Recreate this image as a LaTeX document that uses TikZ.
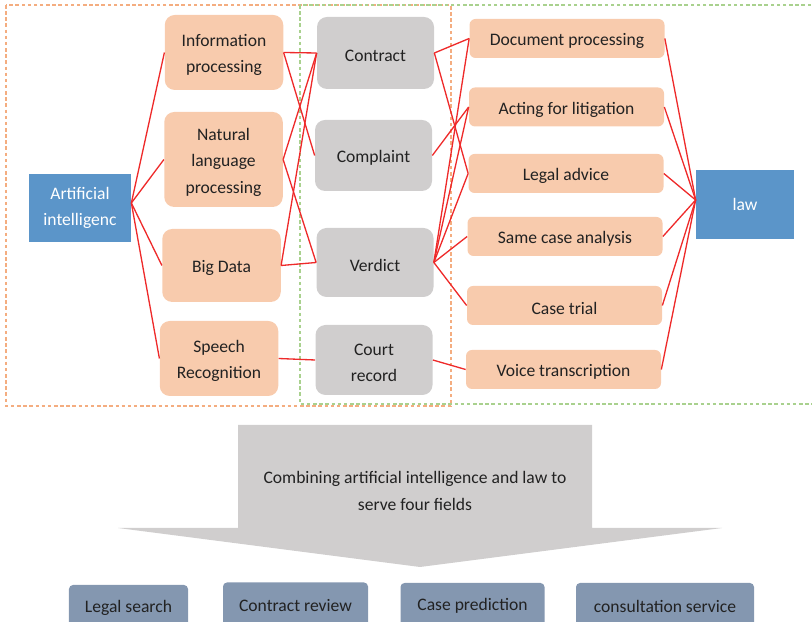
\documentclass[tikz,border=0pt]{standalone}
\usepackage{fontspec}
\setmainfont{Carlito}
\definecolor{peach}{HTML}{F8CBAD}
\definecolor{greybox}{HTML}{D0CECE}
\definecolor{steel}{HTML}{5B95C9}
\definecolor{slate}{HTML}{8497B0}
\definecolor{linkred}{HTML}{EE2A2A}
\definecolor{frameorange}{HTML}{F4AD80}
\definecolor{framegreen}{HTML}{A9D18E}
\definecolor{ink}{HTML}{222222}
% taller first line, pushes the text a little lower in its box
\newcommand{\capstrut}{\rule{0pt}{10pt}}
\tikzset{
  box/.style={align=center, inner sep=0pt, text=ink, font=\fontsize{10}{15}\selectfont},
  lowtext/.style={execute at begin node={\capstrut}},
  techbox/.style={box, lowtext, fill=peach, rounded corners=2mm, minimum width=23.7mm},
  docbox/.style={box, lowtext, fill=greybox, rounded corners=2mm, minimum width=23.4mm},
  usebox/.style={box, lowtext, fill=peach, rounded corners=1.2mm, minimum width=39mm, minimum height=7.8mm},
  mainbox/.style={box, fill=steel, text=white, minimum height=13.7mm},
  fieldbox/.style={box, fill=slate, rounded corners=0.8mm, minimum height=9.2mm},
  link/.style={draw=linkred, line width=0.75pt},
  frame/.style={dash pattern=on 2pt off 1.5pt, semithick}
}

\begin{document}
\begin{tikzpicture}[x=0.2mm, y=-0.2mm]
    \clip (0,0) rectangle (812,622);

    % dashed frames
    \draw[frame, frameorange] (6,5) rectangle (451,406);
    \draw[frame, framegreen] (300,5) rectangle (830,404);

    % left and right ends
    \node[mainbox, minimum width=20.4mm] (ai) at (80,208) {Artificial\\intelligenc};
    \node[mainbox, minimum width=19.6mm] (law) at (745,204.5) {law};
    \coordinate (aiout) at ([yshift=1mm]ai.east);
    \coordinate (lawin) at ([yshift=0.9mm]law.west);

    % techniques
    \node[techbox, minimum height=15mm] (info) at (224,52.5) {\capstrut Information\\processing};
    \node[techbox, minimum height=19mm] (nlp) at (223.5,159.5) {\capstrut Natural\\language\\processing};
    \node[techbox, minimum height=14.6mm] (bigdata) at (221.5,265.5) {Big Data};
    \node[techbox, minimum height=15mm] (speech) at (219,358.5) {\capstrut Speech\\Recognition};

    % documents
    \node[docbox, minimum height=14.4mm] (contract) at (375.5,53) {Contract};
    \node[docbox, minimum height=14.2mm] (complaint) at (373.5,155.5) {Complaint};
    \node[docbox, minimum height=13.8mm] (verdict) at (375,262.5) {Verdict};
    \node[docbox, minimum height=14mm] (courtrec) at (374,360) {\capstrut Court\\record};

    % applications
    \node[usebox] (docproc) at (567,38.5) {Document processing};
    \node[usebox] (acting) at (566.5,107) {Acting for litigation};
    \node[usebox] (advice) at (566,173.5) {Legal advice};
    \node[usebox] (samecase) at (565,236.5) {Same case analysis};
    \node[usebox] (trial) at (564.5,305.5) {Case trial};
    \node[usebox] (voice) at (563.5,369.5) {Voice transcription};

    \foreach \t in {info,nlp,bigdata,speech}
      \draw[link] (aiout) -- (\t.west);
    \foreach \t/\d in {info/contract,info/complaint,nlp/contract,nlp/verdict,
                       bigdata/contract,bigdata/verdict,speech/courtrec}
      \draw[link] (\t.east) -- (\d.west);
    \foreach \d/\u in {contract/docproc,contract/advice,complaint/acting,
                       verdict/docproc,verdict/acting,verdict/advice,
                       verdict/samecase,verdict/trial,courtrec/voice}
      \draw[link] (\d.east) -- (\u.west);
    \foreach \u in {docproc,acting,advice,samecase,trial,voice}
      \draw[link] (\u.east) -- (lawin);

    % big arrow down to the four fields
    \fill[greybox] (238,425) -- (592,425) -- (592,528) -- (722,528)
      -- (420,567) -- (118,528) -- (238,528) -- cycle;
    \node[box] (summary) at (415,491)
      {Combining artificial intelligence and law to\\serve four fields};

    \node[fieldbox, minimum width=23.8mm] (search) at (128.5,608) {Legal search};
    \node[fieldbox, minimum width=29mm] (review) at (295.5,605.5) {Contract review};
    \node[fieldbox, minimum width=28.8mm] (predict) at (472.5,606) {Case prediction};
    \node[fieldbox, minimum width=35.6mm] (consult) at (665,606) {consultation service};
  \end{tikzpicture}
\end{document}
